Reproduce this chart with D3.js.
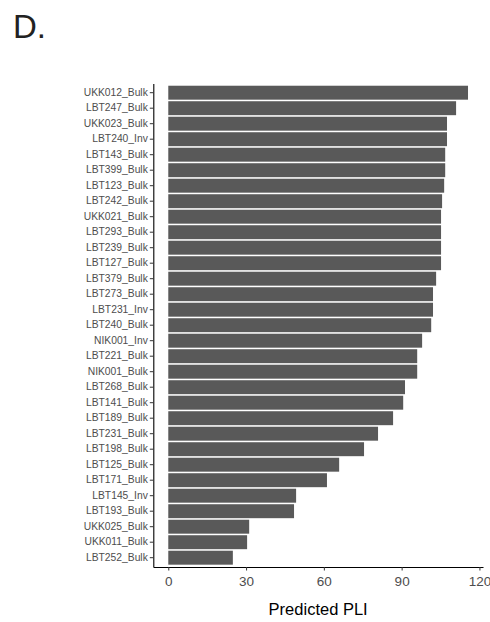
<!DOCTYPE html>
<html>
<head>
<meta charset="utf-8">
<script src="https://cdn.jsdelivr.net/npm/d3@7"></script>
<style>
  html, body { margin: 0; padding: 0; background: #fff; }
  svg { display: block; font-family: "Liberation Sans", Arial, Helvetica, sans-serif; }
</style>
</head>
<body>
<svg id="chart" width="490" height="622"></svg>
<script>
// Samples, ordered from highest to lowest predicted PLI
const samples = [
  "UKK012_Bulk", "LBT247_Bulk", "UKK023_Bulk", "LBT240_Inv", "LBT143_Bulk",
  "LBT399_Bulk", "LBT123_Bulk", "LBT242_Bulk", "UKK021_Bulk", "LBT293_Bulk",
  "LBT239_Bulk", "LBT127_Bulk", "LBT379_Bulk", "LBT273_Bulk", "LBT231_Inv",
  "LBT240_Bulk", "NIK001_Inv", "LBT221_Bulk", "NIK001_Bulk", "LBT268_Bulk",
  "LBT141_Bulk", "LBT189_Bulk", "LBT231_Bulk", "LBT198_Bulk", "LBT125_Bulk",
  "LBT171_Bulk", "LBT145_Inv", "LBT193_Bulk", "UKK025_Bulk", "UKK011_Bulk",
  "LBT252_Bulk"
];
const pli = [
  115.6, 111.0, 107.5, 107.5, 106.8,
  106.8, 106.4, 105.6, 105.2, 105.2,
  105.2, 105.2, 103.3, 102.1, 102.1,
  101.4, 97.9, 96.0, 96.0, 91.3,
  90.6, 86.7, 80.9, 75.5, 65.9,
  61.2, 49.3, 48.5, 31.2, 30.4,
  24.9
];
const xTicks = [0, 30, 60, 90, 120];
const panelTitle = "D.";
const xTitle = "Predicted PLI";

const svg = d3.select("#chart");
const panel = { left: 153.3, right: 483, top: 83.4, bottom: 567 };

// Continuous axis padded by 5% of the data range on each side
const maxV = d3.max(pli);
const x = d3.scaleLinear()
  .domain([-0.05 * maxV, 1.05 * maxV])
  .range([panel.left, panel.right]);

const y = d3.scaleBand()
  .domain(samples)
  .range([panel.top, panel.bottom])
  .paddingInner(0.1)
  .paddingOuter(0.15);

// Bars
svg.append("g")
  .selectAll("rect")
  .data(samples)
  .join("rect")
  .attr("x", x(0))
  .attr("y", d => y(d))
  .attr("width", (d, i) => x(pli[i]) - x(0))
  .attr("height", y.bandwidth())
  .attr("fill", "#595959");

// Y axis
const yAxis = svg.append("g")
  .attr("transform", `translate(${panel.left},0)`)
  .call(d3.axisLeft(y).tickSize(3.5).tickPadding(2).tickSizeOuter(0));
yAxis.select(".domain").attr("stroke", "#000").attr("stroke-width", 1.1);
yAxis.selectAll(".tick line").attr("stroke", "#333").attr("stroke-width", 1);
yAxis.selectAll(".tick text")
  .attr("fill", "#4d4d4d")
  .style("font-size", "10.3px");

// X axis
const xAxis = svg.append("g")
  .attr("transform", `translate(0,${panel.bottom})`)
  .call(d3.axisBottom(x).tickValues(xTicks).tickSize(3.5).tickPadding(6).tickSizeOuter(0));
xAxis.select(".domain").attr("stroke", "#000").attr("stroke-width", 1.1);
xAxis.selectAll(".tick line").attr("stroke", "#333").attr("stroke-width", 1);
xAxis.selectAll(".tick text")
  .attr("fill", "#4d4d4d")
  .style("font-size", "13.5px");

// Axis title
svg.append("text")
  .attr("x", (panel.left + panel.right) / 2)
  .attr("y", 615)
  .attr("text-anchor", "middle")
  .attr("fill", "#000")
  .style("font-size", "16.5px")
  .text(xTitle);

// Panel letter
svg.append("text")
  .attr("x", 13)
  .attr("y", 37.7)
  .attr("fill", "#222")
  .style("font-size", "33px")
  .text(panelTitle);
</script>
</body>
</html>
